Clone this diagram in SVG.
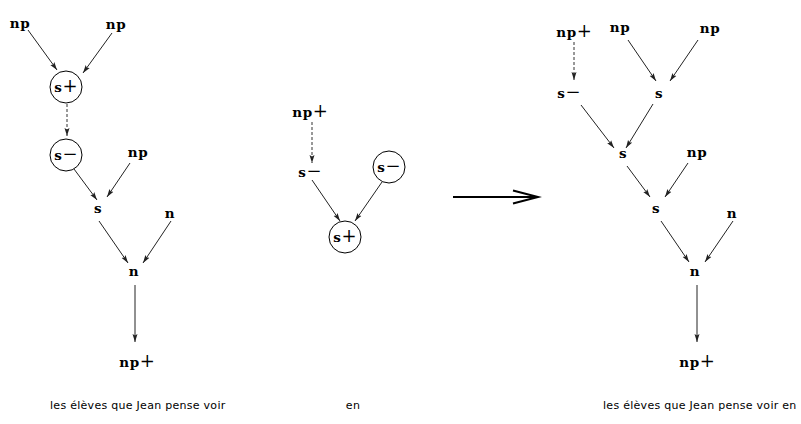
<svg xmlns="http://www.w3.org/2000/svg" width="801" height="424" viewBox="0 0 801 424">
<style>
.lb{font-family:"DejaVu Serif","Liberation Serif",serif;font-weight:bold;font-size:13.5px;letter-spacing:0.6px;fill:#000;text-anchor:middle}
.op{font-weight:normal;font-size:18px;letter-spacing:0}
.tx{font-family:"DejaVu Sans","Liberation Sans",sans-serif;font-size:11px;letter-spacing:0.28px;fill:#000}
.e{stroke:#222;stroke-width:1;fill:none;marker-end:url(#ah)}
.d{stroke:#333;stroke-width:1;fill:none;stroke-dasharray:3,2;marker-end:url(#ah)}
.c{fill:#fff;stroke:#000;stroke-width:1}
</style>
<defs>
<marker id="ah" markerUnits="userSpaceOnUse" markerWidth="9" markerHeight="6" refX="8" refY="3" orient="auto">
<path d="M0,0.5 L8,3 L0,5.5 L1.5,3 z" fill="#222"/>
</marker>
</defs>
<rect width="801" height="424" fill="#fff"/>

<g id="connectors">
<line class="e" x1="28" y1="30" x2="57" y2="70"/>
<line class="e" x1="112" y1="33" x2="83" y2="73"/>
<line class="d" x1="67" y1="104" x2="67" y2="136"/>
<line class="e" x1="74" y1="169" x2="97" y2="200"/>
<line class="e" x1="130" y1="163" x2="107" y2="197"/>
<line class="e" x1="99" y1="221" x2="128" y2="263"/>
<line class="e" x1="171" y1="221" x2="143" y2="263"/>
<line class="e" x1="135" y1="285" x2="135" y2="342"/>

<line class="d" x1="312" y1="122" x2="312" y2="163"/>
<line class="e" x1="312" y1="180" x2="340" y2="221"/>
<line class="e" x1="382" y1="182" x2="355" y2="221"/>
<line x1="453" y1="197" x2="537" y2="197" stroke="#000" stroke-width="2"/>
<polyline points="513,190.5 538,197 513,203.5" fill="none" stroke="#000" stroke-width="2"/>

<line class="d" x1="574" y1="42" x2="574" y2="80"/>
<line class="e" x1="628" y1="40" x2="656" y2="81"/>
<line class="e" x1="698" y1="40" x2="670" y2="81"/>
<line class="e" x1="581" y1="105" x2="614" y2="148"/>
<line class="e" x1="653" y1="104" x2="626" y2="148"/>
<line class="e" x1="627" y1="166" x2="650" y2="197"/>
<line class="e" x1="688" y1="163" x2="665" y2="197"/>
<line class="e" x1="661" y1="221" x2="689" y2="262"/>
<line class="e" x1="733" y1="221" x2="705" y2="262"/>
<line class="e" x1="697" y1="285" x2="697" y2="342"/>
</g>

<g id="L_np1"><text class="lb" x="20" y="27.5">np</text></g>
<g id="L_np2"><text class="lb" x="116" y="28.5">np</text></g>
<g id="L_splus"><circle class="c" cx="66" cy="87" r="16"/><text class="lb" x="66" y="92">s<tspan class="op">+</tspan></text></g>
<g id="L_sminus"><circle class="c" cx="66" cy="155" r="16"/><text class="lb" x="66" y="159.5">s<tspan class="op">−</tspan></text></g>
<g id="L_np3"><text class="lb" x="138" y="157">np</text></g>
<g id="L_s"><text class="lb" x="98" y="213">s</text></g>
<g id="L_n1"><text class="lb" x="170" y="218">n</text></g>
<g id="L_n2"><text class="lb" x="134" y="276">n</text></g>
<g id="L_npplus"><text class="lb" x="137" y="367">np<tspan class="op">+</tspan></text></g>
<g id="L_caption"><text class="tx" x="50" y="409">les élèves que Jean pense voir</text></g>

<g id="M_npplus"><text class="lb" x="310" y="117">np<tspan class="op">+</tspan></text></g>
<g id="M_sminus"><text class="lb" x="310" y="177">s<tspan class="op">−</tspan></text></g>
<g id="M_sminus_c"><circle class="c" cx="389" cy="167" r="16"/><text class="lb" x="389" y="171.5">s<tspan class="op">−</tspan></text></g>
<g id="M_splus_c"><circle class="c" cx="345" cy="237" r="16"/><text class="lb" x="345" y="242">s<tspan class="op">+</tspan></text></g>
<g id="M_caption"><text class="tx" x="353" y="409" text-anchor="middle">en</text></g>

<g id="R_npplus"><text class="lb" x="574" y="37">np<tspan class="op">+</tspan></text></g>
<g id="R_np1"><text class="lb" x="620" y="31.5">np</text></g>
<g id="R_np2"><text class="lb" x="710" y="33">np</text></g>
<g id="R_sminus"><text class="lb" x="569" y="98">s<tspan class="op">−</tspan></text></g>
<g id="R_s1"><text class="lb" x="659" y="98">s</text></g>
<g id="R_s2"><text class="lb" x="623" y="158">s</text></g>
<g id="R_np3"><text class="lb" x="697" y="157">np</text></g>
<g id="R_s3"><text class="lb" x="656" y="213">s</text></g>
<g id="R_n1"><text class="lb" x="732" y="218">n</text></g>
<g id="R_n2"><text class="lb" x="695" y="276">n</text></g>
<g id="R_npplus2"><text class="lb" x="697" y="367">np<tspan class="op">+</tspan></text></g>
<g id="R_caption"><text class="tx" x="603" y="409">les élèves que Jean pense voir en</text></g>
</svg>
